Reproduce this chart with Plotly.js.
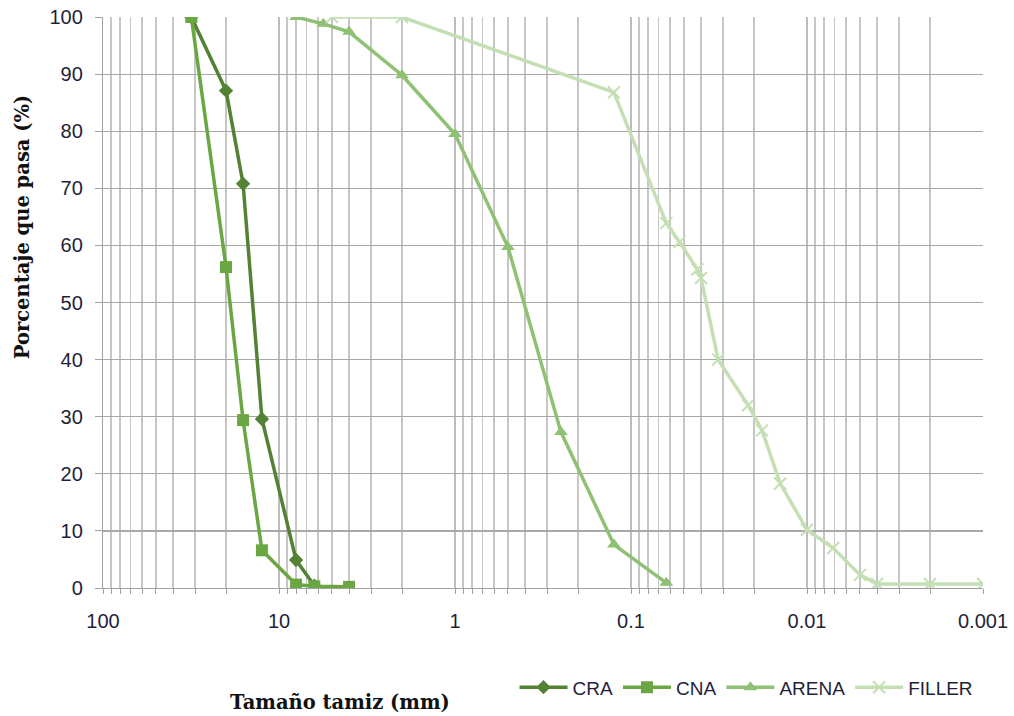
<!DOCTYPE html>
<html><head><meta charset="utf-8">
<script src="https://cdn.plot.ly/plotly-3.0.1.min.js"></script>
<style>body{margin:0;background:#fff}#chart{width:1014px;height:716px}</style>
</head><body><div id="chart"></div>
<script>
const craSize = [31.5, 20, 16, 12.5, 8, 6.3];
const craPass = [100, 87.1, 70.8, 29.6, 4.9, 0.4];
const cnaSize = [31.5, 20, 16, 12.5, 8, 6.3, 4];
const cnaPass = [100, 56.2, 29.4, 6.6, 0.6, 0.3, 0.2];
const arenaSize = [8, 5.6, 4, 2, 1, 0.5, 0.25, 0.125, 0.063];
const arenaPass = [100, 98.8, 97.4, 89.8, 79.5, 59.7, 27.3, 7.6, 0.9];
const fillerSize = [5, 2, 0.125, 0.063, 0.053, 0.042, 0.04, 0.032, 0.0216, 0.018, 0.0142, 0.01, 0.0071, 0.005, 0.004, 0.002, 0.001];
const fillerPass = [100, 100, 86.8, 63.9, 60.6, 55.8, 54.3, 40.0, 32.0, 27.6, 18.3, 10.2, 7.0, 2.3, 0.7, 0.7, 0.7];
const xTickVals = [100, 10, 1, 0.1, 0.01, 0.001];
const xTickText = ['100', '10', '1', '0.1', '0.01', '0.001'];
const yTickVals = [0, 10, 20, 30, 40, 50, 60, 70, 80, 90, 100];

const traces = [
  {name:'CRA', x:craSize, y:craPass, mode:'lines+markers', line:{color:'#548235', width:3.5}, marker:{symbol:'diamond', size:11, color:'#548235'}},
  {name:'CNA', x:cnaSize, y:cnaPass, mode:'lines+markers', line:{color:'#6aa743', width:3.5}, marker:{symbol:'square', size:12, color:'#6aa743'}},
  {name:'ARENA', x:arenaSize, y:arenaPass, mode:'lines+markers', line:{color:'#8fc175', width:3.5}, marker:{symbol:'triangle-up', size:12, color:'#8fc175'}},
  {name:'FILLER', x:fillerSize, y:fillerPass, mode:'lines+markers', line:{color:'#c4dfb3', width:3.5}, marker:{symbol:'x-thin-open', size:12, color:'#c4dfb3', line:{color:'#c4dfb3', width:2}}}
];

const layout = {
  width:1014, height:716,
  margin:{l:103, r:31, t:17, b:128},
  paper_bgcolor:'#fff', plot_bgcolor:'#fff',
  font:{family:'Liberation Sans, Arial, sans-serif', size:19, color:'#1f1f3a'},
  showlegend:true,
  legend:{orientation:'h', xref:'container', yref:'container', x:0.965, xanchor:'right', y:0.04, yanchor:'middle', font:{size:19, color:'#1f1f3a'}, itemwidth:48, tracegroupgap:0},
  xaxis:{type:'log', range:[2, -3], autorange:false, automargin:false, tickvals:xTickVals, ticktext:xTickText,
    showgrid:true, gridcolor:'#bdbdbd', gridwidth:1.2,
    minor:{dtick:'D1', showgrid:true, gridcolor:'#c6c6c6', gridwidth:1.2, ticks:'outside', ticklen:5, tickcolor:'#a0a0a0'},
    ticks:'outside', ticklen:5, tickcolor:'#a0a0a0', showline:true, linecolor:'#a0a0a0', linewidth:1.2,
    ticklabelstandoff:10,
    zeroline:false, tickfont:{size:20, color:'#1f1f3a'}},
  yaxis:{range:[0, 100], autorange:false, automargin:false, tickvals:yTickVals, showgrid:true, gridcolor:'#a8a8a8', gridwidth:1.2,
    ticks:'outside', ticklen:7, tickcolor:'#a0a0a0', showline:true, linecolor:'#a0a0a0', linewidth:1.2,
    ticklabelstandoff:8,
    zeroline:false, tickfont:{size:20, color:'#1f1f3a'}},
  annotations:[
    {text:'Tamaño tamiz (mm)', xref:'paper', yref:'paper', x:0.269, y:-0.201, xanchor:'center', yanchor:'middle', showarrow:false,
     font:{family:'DejaVu Serif, serif', size:19.5, color:'#111', weight:'bold'}},
    {text:'Porcentaje que pasa (%)', xref:'paper', yref:'paper', x:-0.092, y:0.632, xanchor:'center', yanchor:'middle', textangle:-90, showarrow:false,
     font:{family:'DejaVu Serif, serif', size:19.5, color:'#111', weight:'bold'}}
  ]
};
Plotly.newPlot('chart', traces, layout, {displayModeBar:false, staticPlot:true});
</script></body></html>
